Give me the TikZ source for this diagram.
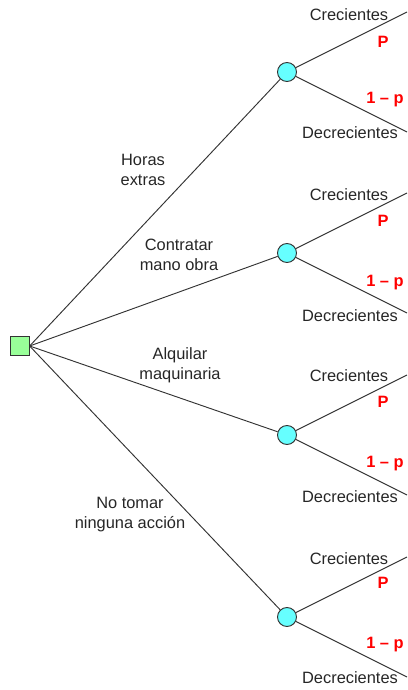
\documentclass[tikz,border=0pt]{standalone}
\usepackage{fontspec}
\setmainfont{Liberation Sans}
\usepackage{tikz}
\usetikzlibrary{positioning, calc}

\definecolor{boxgreen}{HTML}{99FF99}
\definecolor{chancecyan}{HTML}{66FFFF}
\definecolor{probred}{HTML}{FF0000}

\begin{document}
\begin{tikzpicture}[x=0.03cm, y=-0.03cm]
    % Define styles
    \tikzstyle{branch}=[thick, color=black!80]
    \tikzstyle{decision}=[draw=black!80, thick, fill=boxgreen, minimum size=0.55cm, inner sep=0pt]
    \tikzstyle{chance}=[draw=black!80, thick, circle, fill=chancecyan, minimum size=0.57cm, inner sep=0pt]
    \tikzstyle{action_text}=[font=\fontsize{14}{17}\selectfont, align=center, color=black!85]
    \tikzstyle{state_text}=[font=\fontsize{14}{17}\selectfont, color=black!85]
    \tikzstyle{prob_text}=[font=\fontsize{14}{17}\selectfont\bfseries, color=probred]

    \useasboundingbox (0,0) rectangle (407,690);

    % --- 1. Decision and chance nodes ---
    \node[decision] (d) at (20, 346) {};
    \node[chance] (c1) at (287, 72) {};
    \node[chance] (c2) at (287, 253) {};
    \node[chance] (c3) at (287, 435) {};
    \node[chance] (c4) at (287, 617) {};

    % Free ends of the outcome branches
    \coordinate (c1up) at (407, 12);
    \coordinate (c1dn) at (407, 132);
    \coordinate (c2up) at (407, 193);
    \coordinate (c2dn) at (407, 313);
    \coordinate (c3up) at (407, 375);
    \coordinate (c3dn) at (407, 495);
    \coordinate (c4up) at (407, 557);
    \coordinate (c4dn) at (407, 677);

    % --- 2. Action branches ---
    \draw[branch] (d.east) -- (c1);
    \draw[branch] (d.east) -- (c2);
    \draw[branch] (d.east) -- (c3);
    \draw[branch] (d.east) -- (c4);

    % --- 3. Outcome branches ---
    \draw[branch] (c1) -- (c1up);
    \draw[branch] (c1) -- (c1dn);
    \draw[branch] (c2) -- (c2up);
    \draw[branch] (c2) -- (c2dn);
    \draw[branch] (c3) -- (c3up);
    \draw[branch] (c3) -- (c3dn);
    \draw[branch] (c4) -- (c4up);
    \draw[branch] (c4) -- (c4dn);

    % --- 4. Labels ---
    \node[action_text] (a1) at (143, 170) {Horas\\extras};
    \node[action_text] (a2) at (179, 255) {Contratar\\mano obra};
    \node[action_text] (a3) at (180, 365) {Alquilar\\maquinaria};
    \node[action_text] (a4) at (130, 515) {No tomar\\ninguna acción};

    \node[state_text] (s1u) at (349, 15) {Crecientes};
    \node[prob_text] (p1u) at (383, 42) {P};
    \node[prob_text] (p1d) at (385, 100) {1 – p};
    \node[state_text] (s1d) at (350, 133) {Decrecientes};

    \node[state_text] (s2u) at (349, 195) {Crecientes};
    \node[prob_text] (p2u) at (383, 221) {P};
    \node[prob_text] (p2d) at (385, 283) {1 – p};
    \node[state_text] (s2d) at (350, 316) {Decrecientes};

    \node[state_text] (s3u) at (349, 376) {Crecientes};
    \node[prob_text] (p3u) at (383, 402) {P};
    \node[prob_text] (p3d) at (385, 464) {1 – p};
    \node[state_text] (s3d) at (350, 497) {Decrecientes};

    \node[state_text] (s4u) at (349, 559) {Crecientes};
    \node[prob_text] (p4u) at (383, 583) {P};
    \node[prob_text] (p4d) at (385, 645) {1 – p};
    \node[state_text] (s4d) at (350, 678) {Decrecientes};

\end{tikzpicture}
\end{document}
